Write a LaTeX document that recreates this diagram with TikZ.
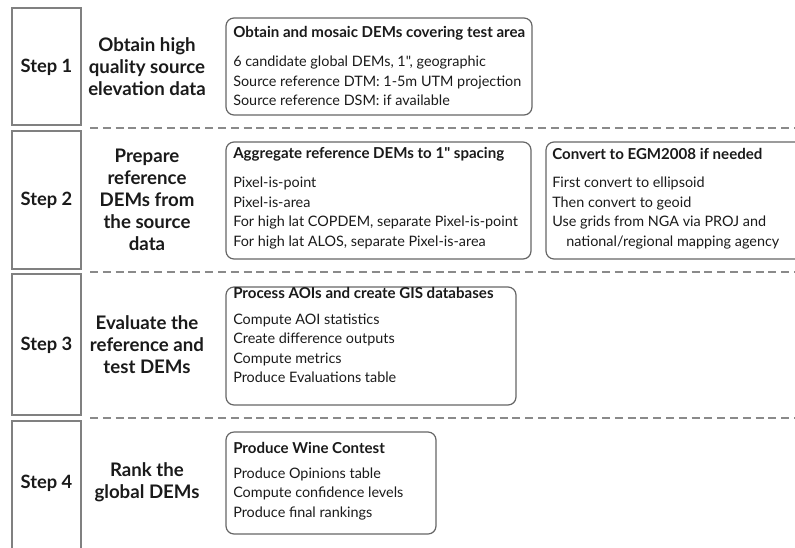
\documentclass[tikz,border=0pt]{standalone}
\usepackage{fontspec}
\setmainfont{Lato}[Ligatures=TeXOff]
\definecolor{stepgray}{HTML}{808080}
\definecolor{cardgray}{HTML}{666666}
\definecolor{sepgray}{HTML}{8A8A8A}
\definecolor{ink}{HTML}{1A1A1A}
\newcommand{\dq}{\symbol{34}}
\begin{document}
\begin{tikzpicture}[x=0.75pt,y=-0.75pt,
  stepbox/.style={draw=stepgray, line width=1.5pt, inner sep=0pt},
  steplabel/.style={font=\bfseries\fontsize{13.75pt}{16pt}\selectfont, text=ink, inner sep=0pt},
  desc/.style={font=\bfseries\fontsize{14pt}{16.5pt}\selectfont, text=ink, align=center, inner sep=0pt},
  card/.style={draw=cardgray, line width=0.9pt, rounded corners=6pt, inner sep=0pt},
  cardtitle/.style={font=\bfseries\fontsize{11.3pt}{14pt}\selectfont, text=ink, anchor=west, inner sep=0pt},
  cardbody/.style={font=\fontsize{10.8pt}{14.6pt}\selectfont, text=ink, anchor=west, align=left, inner sep=0pt},
  sepline/.style={draw=sepgray, line width=1.2pt, dash pattern=on 6pt off 3.6pt}]
\useasboundingbox (0,0) rectangle (795,547);

% step boxes
\node[stepbox, minimum width=51.75pt, minimum height=87.75pt] (s1) at (46.5,66.5) {};
\node[stepbox, minimum width=51.75pt, minimum height=103.5pt] (s2) at (46.5,200) {};
\node[stepbox, minimum width=51.75pt, minimum height=105.75pt] (s3) at (46.5,344.5) {};
\node[stepbox, minimum width=51.75pt, minimum height=120pt] (s4) at (46.5,501) {};
\node[steplabel] (s1t) at (46.5,67) {Step 1};
\node[steplabel] (s2t) at (46.5,200) {Step 2};
\node[steplabel] (s3t) at (46.5,345) {Step 3};
\node[steplabel] (s4t) at (46.5,483) {Step 4};

% descriptions
\node[desc] (d1) at (147,67) {Obtain high\\quality source\\elevation data};
\node[desc] (d2) at (147,200) {Prepare\\reference\\DEMs from\\the source\\data};
\node[desc] (d3) at (147,345) {Evaluate the\\reference and\\test DEMs};
\node[desc] (d4) at (147,482) {Rank the\\global DEMs};

% separators
\coordinate (l1a) at (90,128); \coordinate (l1b) at (795,128);
\coordinate (l2a) at (90,272); \coordinate (l2b) at (795,272);
\coordinate (l3a) at (90,418); \coordinate (l3b) at (795,418);
\draw[sepline] (l1a) -- (l1b);
\draw[sepline] (l2a) -- (l2b);
\draw[sepline] (l3a) -- (l3b);

% cards
\node[card, minimum width=229.5pt, minimum height=72.75pt] (b1) at (379,66.5) {};
\node[cardtitle] (b1t) at (233,33) {Obtain and mosaic DEMs covering test area};
\node[cardbody] (b1b) at (233,81) {6 candidate global DEMs, 1\dq, geographic\\Source reference DTM: 1-5m UTM projection\\Source reference DSM: if available};

\node[card, minimum width=228.75pt, minimum height=87.75pt] (b2) at (378.5,200.5) {};
\node[cardtitle] (b2t) at (233,154) {Aggregate reference DEMs to 1\dq\ spacing};
\node[cardbody] (b2b) at (233,213) {Pixel-is-point\\Pixel-is-area\\For high lat COPDEM, separate Pixel-is-point\\For high lat ALOS, separate Pixel-is-area};

\node[card, minimum width=198pt, minimum height=87.75pt] (b2c) at (678,200.5) {};
\node[cardtitle] (b2ct) at (552,154) {Convert to EGM2008 if needed};
\node[cardbody] (b2cb) at (552,213) {First convert to ellipsoid\\Then convert to geoid\\Use grids from NGA via PROJ and\\\hspace*{10.5pt}national/regional mapping agency};

\node[card, minimum width=217.5pt, minimum height=88.5pt] (b3) at (371,346) {};
\node[cardtitle] (b3t) at (233,293) {Process AOIs and create GIS databases};
\node[cardbody] (b3b) at (233,348.5) {Compute AOI statistics\\Create difference outputs\\Compute metrics\\Produce Evaluations table};

\node[card, minimum width=157.5pt, minimum height=76.5pt] (b4) at (331,483) {};
\node[cardtitle] (b4t) at (233,448) {Produce Wine Contest};
\node[cardbody] (b4b) at (233,493.7) {Produce Opinions table\\Compute confidence levels\\Produce final rankings};
\end{tikzpicture}
\end{document}
